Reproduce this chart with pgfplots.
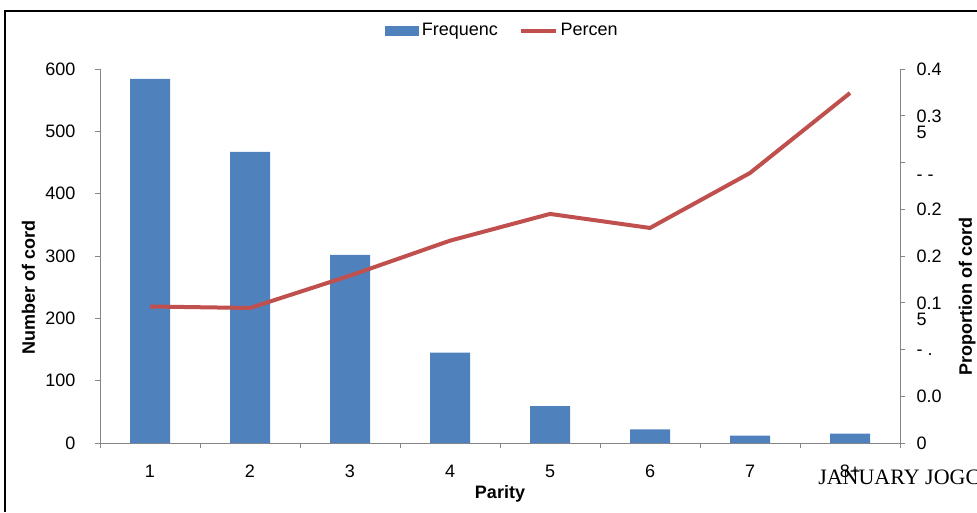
\documentclass[border=0pt]{standalone}
\usepackage{pgfplots}
\pgfplotsset{compat=1.18}
\usepackage{fontspec}
\setmainfont{Liberation Sans}
\newfontfamily\seriffont{Liberation Serif}
\definecolor{barblue}{RGB}{79,129,189}
\definecolor{linered}{RGB}{192,80,77}
\definecolor{axgray}{RGB}{134,134,134}
\newcommand{\chartfont}{\fontsize{13.5}{16}\selectfont}
\begin{document}
\chartfont
\begin{tikzpicture}[x=0.75pt,y=0.75pt]
\useasboundingbox (0,0) rectangle (977,512);
\draw[black, line width=1pt] (5,0) -- (5,501) -- (1000,501);
\begin{axis}[
  at={(75pt,51.75pt)}, anchor=south west,
  width=600pt, height=280.5pt, scale only axis,
  xmin=0.5, xmax=8.5, ymin=0, ymax=600,
  axis y line*=left, axis x line*=bottom,
  axis line style={axgray, line width=0.75pt},
  tick style={axgray, line width=0.75pt},
  tick align=outside,
  major tick length=3.75pt, minor tick length=3.75pt,
  xtick={1,2,3,4,5,6,7,8},
  xticklabels={1,2,3,4,5,6,7,8+},
  minor xtick={0.5,1.5,2.5,3.5,4.5,5.5,6.5,7.5,8.5},
  major x tick style={draw=none},
  ytick={0,100,200,300,400,500,600},
  /pgf/number format/assume math mode=true,
  ticklabel style={font=\chartfont},
  xticklabel style={yshift=-8pt},
  yticklabel style={xshift=-10pt},
  xlabel={Parity},
  xlabel style={at={(axis description cs:0.5,-0.136)}, anchor=center, font=\chartfont\bfseries},
  ylabel={Number of cord},
  ylabel style={at={(axis description cs:-0.0894,0.417)}, anchor=center, font=\chartfont\bfseries},
  legend style={at={(axis description cs:0.503,1.1016)}, anchor=center, draw=none, fill=none,
    legend columns=2, font=\chartfont,
    /tikz/every even column/.append style={column sep=14pt},
    /tikz/every odd column/.append style={column sep=0pt}},
  legend cell align=left,
]
\addplot[ybar, bar width=30pt, bar shift=0pt, fill=barblue, draw=none,
  legend image code/.code={\fill[barblue] (0pt,-4pt) rectangle (26pt,4pt);}]
  coordinates {(1,584) (2,467) (3,302) (4,145) (5,59) (6,22) (7,12) (8,15)};
\addlegendentry{Frequenc}
\addlegendimage{legend image code/.code={\draw[linered, line width=3pt] (0pt,0pt) -- (26pt,0pt);}}
\addlegendentry{Percen}
\end{axis}
\begin{axis}[
  at={(75pt,51.75pt)}, anchor=south west,
  width=600pt, height=280.5pt, scale only axis,
  xmin=0.5, xmax=8.5, ymin=0, ymax=0.4,
  axis x line=none, axis y line*=right,
  axis line style={axgray, line width=0.75pt},
  tick style={axgray, line width=0.75pt},
  tick align=outside,
  major tick length=3.75pt,
  ytick={0,0.05,0.1,0.15,0.2,0.25,0.3,0.35,0.4},
  yticklabels={0, 0.0, {- .}, {\begin{tabular}[t]{@{}l@{}}0.1\\[-3.5pt]5\end{tabular}}, 0.2, 0.2, {\raisebox{-9pt}{- -}}, {\begin{tabular}[t]{@{}l@{}}0.3\\[-3.5pt]5\end{tabular}}, 0.4},
  yticklabel style={anchor=base west, yshift=-4.8pt, xshift=4pt, font=\chartfont},
  ylabel={Proportion of cord},
  ylabel style={at={(axis description cs:1.084,0.393)}, anchor=center, rotate=0, font=\chartfont\bfseries},
]
\addplot[linered, line width=3pt] coordinates {(1,0.146) (2,0.1444) (3,0.179) (4,0.2164) (5,0.245) (6,0.230) (7,0.2888) (8,0.3743)};
\end{axis}
\node[anchor=base west, inner sep=0pt, font=\seriffont\fontsize{16.5}{19}\selectfont] at (818,28) {JANUARY JOGC};
\end{tikzpicture}
\end{document}
